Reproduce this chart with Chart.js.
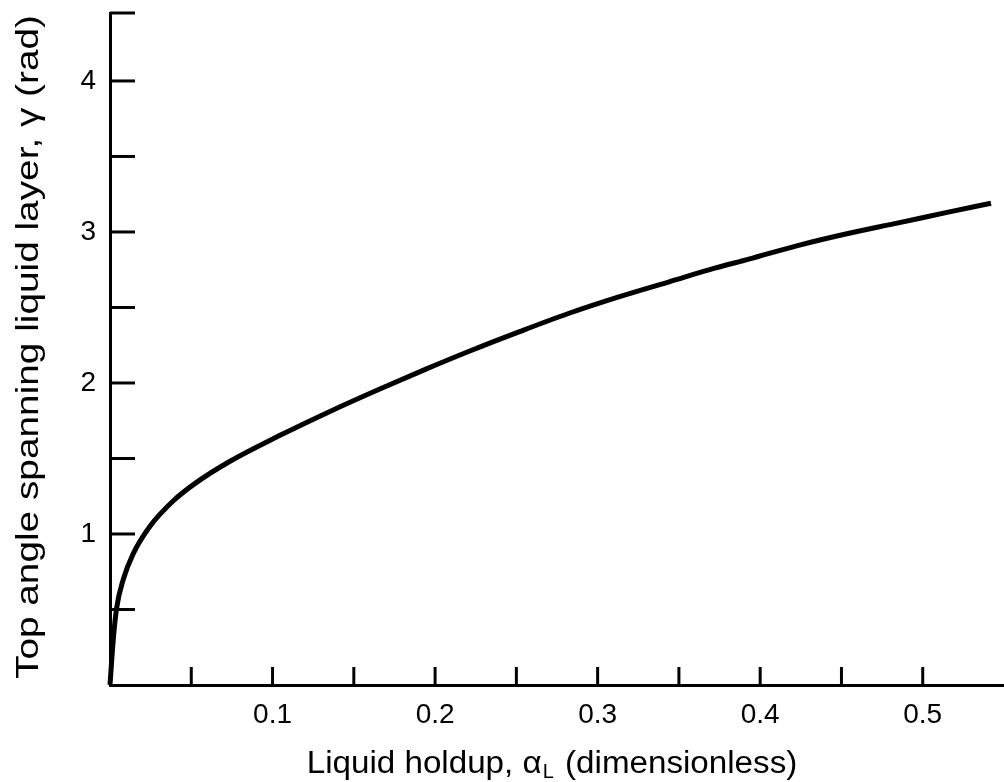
<!DOCTYPE html>
<html>
<head>
<meta charset="utf-8">
<script src="https://cdn.jsdelivr.net/npm/chart.js@4.4.1/dist/chart.umd.min.js"></script>
<style>
  html, body { margin: 0; padding: 0; background: #fff; }
  #holdupChart { display: block; }
</style>
</head>
<body>
<canvas id="holdupChart" width="1004" height="782"></canvas>
<script>
// values
var holdup = [0, 0.002, 0.0041, 0.0082, 0.0143, 0.0245, 0.039, 0.053, 0.0736, 0.104, 0.135, 0.166, 0.194, 0.221, 0.252, 0.282, 0.313, 0.344, 0.372, 0.393, 0.423, 0.454, 0.485, 0.515, 0.542]
var topAngle = [0, 0.30, 0.51, 0.70, 0.87, 1.05, 1.22, 1.34, 1.48, 1.65, 1.81, 1.96, 2.09, 2.21, 2.34, 2.46, 2.57, 2.67, 2.76, 2.82, 2.91, 2.99, 3.06, 3.13, 3.19]
var xTickLabels = ['0.1', '0.2', '0.3', '0.4', '0.5']
var yTickLabels = ['1', '2', '3', '4']
var xTitle = ['Liquid holdup, \u03b1', 'L', ' (dimensionless)']
var yTitle = 'Top angle spanning liquid layer, \u03b3 (rad)'

var FONT = '"Liberation Sans", Arial, Helvetica, sans-serif'

var points = []
for (var i = 0; i < holdup.length; i++) {
  points.push({x: holdup[i], y: topAngle[i]})
}

// stretch text to a wanted length (scan typeface is looser than Arial)
function fitText(ctx, text, x, y, len) {
  var w = ctx.measureText(text).width
  ctx.save()
  ctx.translate(x, y)
  ctx.scale(len / w, 1)
  ctx.fillText(text, 0, 0)
  ctx.restore()
  return len
}

// ticks drawn inward + axis titles
var inwardTicks = {
  id: 'inwardTicks',
  afterDraw: function(chart) {
    var ctx = chart.ctx, xs = chart.scales.x, ys = chart.scales.y
    var area = chart.chartArea
    ctx.save()
    ctx.strokeStyle = '#000'
    ctx.lineWidth = 3
    ys.ticks.forEach(function(t) {
      if (t.value <= 0) return
      var py = ys.getPixelForValue(t.value)
      ctx.beginPath()
      ctx.moveTo(area.left, py)
      ctx.lineTo(area.left + 25, py)
      ctx.stroke()
    })
    xs.ticks.forEach(function(t) {
      if (t.value <= 0 || t.value >= xs.max - 1e-6) return
      var px = xs.getPixelForValue(t.value)
      ctx.beginPath()
      ctx.moveTo(px, area.bottom)
      ctx.lineTo(px, area.bottom - 18)
      ctx.stroke()
    })

    ctx.fillStyle = '#000'
    ctx.textBaseline = 'middle'
    ctx.textAlign = 'left'
    // x title (subscript L), 307..797 in the figure
    var k = 1.07
    ctx.font = '31px ' + FONT
    var w0 = ctx.measureText(xTitle[0]).width * k
    var w2 = ctx.measureText(xTitle[2]).width * k
    ctx.font = '20px ' + FONT
    var w1 = ctx.measureText(xTitle[1]).width
    var sx = 552 - (w0 + w1 + w2 + 3) / 2, ty = 764
    ctx.font = '31px ' + FONT
    fitText(ctx, xTitle[0], sx, ty, w0)
    ctx.font = '20px ' + FONT
    ctx.fillText(xTitle[1], sx + w0 + 1, ty + 8)
    ctx.font = '31px ' + FONT
    fitText(ctx, xTitle[2], sx + w0 + w1 + 3, ty, w2)

    // y title, 680..15 in the figure
    ctx.translate(29, 347)
    ctx.rotate(-Math.PI / 2)
    ctx.font = '31px ' + FONT
    fitText(ctx, yTitle, -332, 0, 664)
    ctx.restore()
  }
}

var holdupChart = new Chart(document.getElementById('holdupChart'), {
  type: 'scatter',
  data: {
    datasets: [{
      data: points,
      showLine: true,
      borderColor: '#000',
      borderWidth: 5,
      pointRadius: 0,
      cubicInterpolationMode: 'monotone',
      clip: false
    }]
  },
  options: {
    responsive: false,
    animation: false,
    events: [],
    layout: { padding: { top: 13, right: 0, left: 0, bottom: 0 } },
    plugins: { legend: { display: false }, tooltip: { enabled: false } },
    scales: {
      x: {
        type: 'linear',
        min: 0,
        max: 0.55,
        grid: { display: false, drawTicks: false },
        border: { display: true, color: '#000', width: 3 },
        afterFit: function(scale) {
          scale.height = 97
          scale.paddingLeft = 0
          scale.paddingRight = 0
        },
        ticks: {
          stepSize: 0.05,
          padding: 13,
          color: '#000',
          font: { family: FONT, size: 28 },
          maxRotation: 0,
          autoSkip: false,
          callback: function(v) {
            var k = Math.round(v * 20)
            if (k % 2 !== 0 || k === 0) return ''
            return xTickLabels[k / 2 - 1] || ''
          }
        }
      },
      y: {
        min: 0,
        max: 4.45,
        grid: { display: false, drawTicks: false },
        border: { display: true, color: '#000', width: 3 },
        afterFit: function(scale) {
          scale.width = 110
          scale.paddingTop = 0
          scale.paddingBottom = 0
        },
        ticks: {
          stepSize: 0.5,
          padding: 14,
          color: '#000',
          font: { family: FONT, size: 28 },
          autoSkip: false,
          callback: function(v) {
            var k = Math.round(v * 2)
            if (Math.abs(v * 2 - k) > 1e-6 || k % 2 !== 0 || k === 0) return ''
            return yTickLabels[k / 2 - 1] || ''
          }
        }
      }
    }
  },
  plugins: [inwardTicks]
})
</script>
</body>
</html>
